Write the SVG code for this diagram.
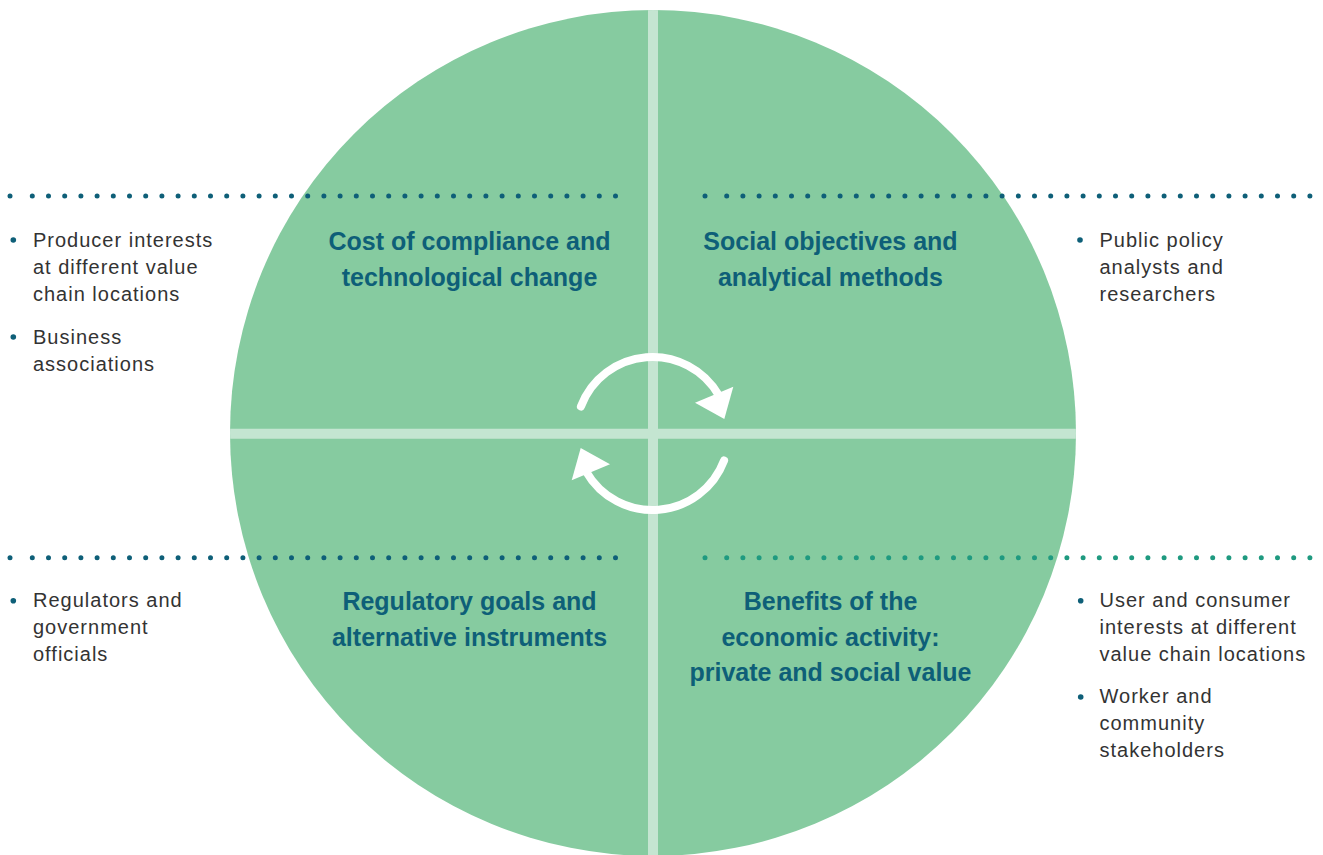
<svg xmlns="http://www.w3.org/2000/svg" xmlns:xlink="http://www.w3.org/1999/xlink" width="1323" height="855" viewBox="0 0 1323 855">
  <style>
    .title { font-family: "Liberation Sans", Arial, sans-serif; font-weight: bold; font-size: 25px; fill: #0e5f78; text-anchor: middle; }
    .item { font-family: "Liberation Sans", Arial, sans-serif; font-size: 20px; fill: #333333; letter-spacing: 1px; }
    .bullet { fill: #0e5f78; }
    .dots { fill: none; stroke-width: 5; stroke-linecap: round; stroke-dasharray: 0 16.2; }
    .dots-blue { stroke: #0e5f78; }
    .dots-teal { stroke: #1f9a80; }
    .dot-blue { fill: #0e5f78; }
    .dot-teal { fill: #1f9a80; }
    .divider { stroke: #c4e5d1; stroke-width: 10; }
    .cycle { fill: none; stroke: #ffffff; stroke-width: 8; stroke-linecap: round; }
  </style>
  <defs>
    <clipPath id="circleClip">
      <circle cx="653" cy="433" r="423"/>
    </clipPath>
    <g id="cycleArrow">
      <path class="cycle" d="M 580.9 406.5 A 76.5 76.5 0 0 1 718.8 395.3"/>
      <polygon points="695,402.7 733.3,386.7 724.3,419" fill="#ffffff"/>
    </g>
  </defs>

  <rect width="1323" height="855" fill="#ffffff"/>

  <!-- main disc with quadrant dividers -->
  <g id="disc">
    <circle cx="653" cy="433" r="423" fill="#86cba0"/>
    <g clip-path="url(#circleClip)">
      <line class="divider" x1="653" y1="0" x2="653" y2="860"/>
      <line class="divider" x1="220" y1="433.7" x2="1090" y2="433.7"/>
    </g>
  </g>

  <!-- dotted guide lines -->
  <g id="connectors">
    <circle class="dot-blue" cx="10" cy="196" r="2.5"/>
    <line class="dots dots-blue" x1="32.3" y1="196" x2="616" y2="196"/>
    <circle class="dot-blue" cx="705" cy="196" r="2.5"/>
    <line class="dots dots-blue" x1="726.7" y1="196" x2="1311" y2="196"/>
    <circle class="dot-blue" cx="10" cy="557.7" r="2.5"/>
    <line class="dots dots-blue" x1="32.3" y1="557.7" x2="616" y2="557.7"/>
    <circle class="dot-teal" cx="705" cy="557.7" r="2.5"/>
    <line class="dots dots-teal" x1="726.7" y1="557.7" x2="1311" y2="557.7"/>
  </g>

  <!-- cycle arrows in the centre -->
  <g id="cycle">
    <use xlink:href="#cycleArrow"/>
    <use xlink:href="#cycleArrow" transform="rotate(180 652.5 433.5)"/>
  </g>

  <!-- quadrant titles -->
  <g id="q-cost">
    <text class="title" x="469.5" y="250">Cost of compliance and</text>
    <text class="title" x="469.5" y="285.5">technological change</text>
  </g>
  <g id="q-social">
    <text class="title" x="830.5" y="250">Social objectives and</text>
    <text class="title" x="830.5" y="285.5">analytical methods</text>
  </g>
  <g id="q-regulatory">
    <text class="title" x="469.5" y="610">Regulatory goals and</text>
    <text class="title" x="469.5" y="645.5">alternative instruments</text>
  </g>
  <g id="q-benefits">
    <text class="title" x="830.5" y="610">Benefits of the</text>
    <text class="title" x="830.5" y="645.5">economic activity:</text>
    <text class="title" x="830.5" y="681">private and social value</text>
  </g>

  <!-- stakeholder lists -->
  <g id="s-producers">
    <circle class="bullet" cx="13.3" cy="240" r="2.8"/>
    <text class="item" x="33" y="246.7">Producer interests</text>
    <text class="item" x="33" y="273.7">at different value</text>
    <text class="item" x="33" y="300.7">chain locations</text>
    <circle class="bullet" cx="13.3" cy="337" r="2.8"/>
    <text class="item" x="33" y="343.5">Business</text>
    <text class="item" x="33" y="370.5">associations</text>
  </g>
  <g id="s-analysts">
    <circle class="bullet" cx="1080" cy="240" r="2.8"/>
    <text class="item" x="1099.5" y="246.7">Public policy</text>
    <text class="item" x="1099.5" y="273.7">analysts and</text>
    <text class="item" x="1099.5" y="300.7">researchers</text>
  </g>
  <g id="s-regulators">
    <circle class="bullet" cx="13.3" cy="600.7" r="2.8"/>
    <text class="item" x="33" y="606.7">Regulators and</text>
    <text class="item" x="33" y="633.7">government</text>
    <text class="item" x="33" y="660.7">officials</text>
  </g>
  <g id="s-users">
    <circle class="bullet" cx="1080.7" cy="600.7" r="2.8"/>
    <text class="item" x="1099.5" y="606.7">User and consumer</text>
    <text class="item" x="1099.5" y="633.7">interests at different</text>
    <text class="item" x="1099.5" y="660.7">value chain locations</text>
    <circle class="bullet" cx="1080.7" cy="697" r="2.8"/>
    <text class="item" x="1099.5" y="703.3">Worker and</text>
    <text class="item" x="1099.5" y="730.3">community</text>
    <text class="item" x="1099.5" y="757.3">stakeholders</text>
  </g>
</svg>
